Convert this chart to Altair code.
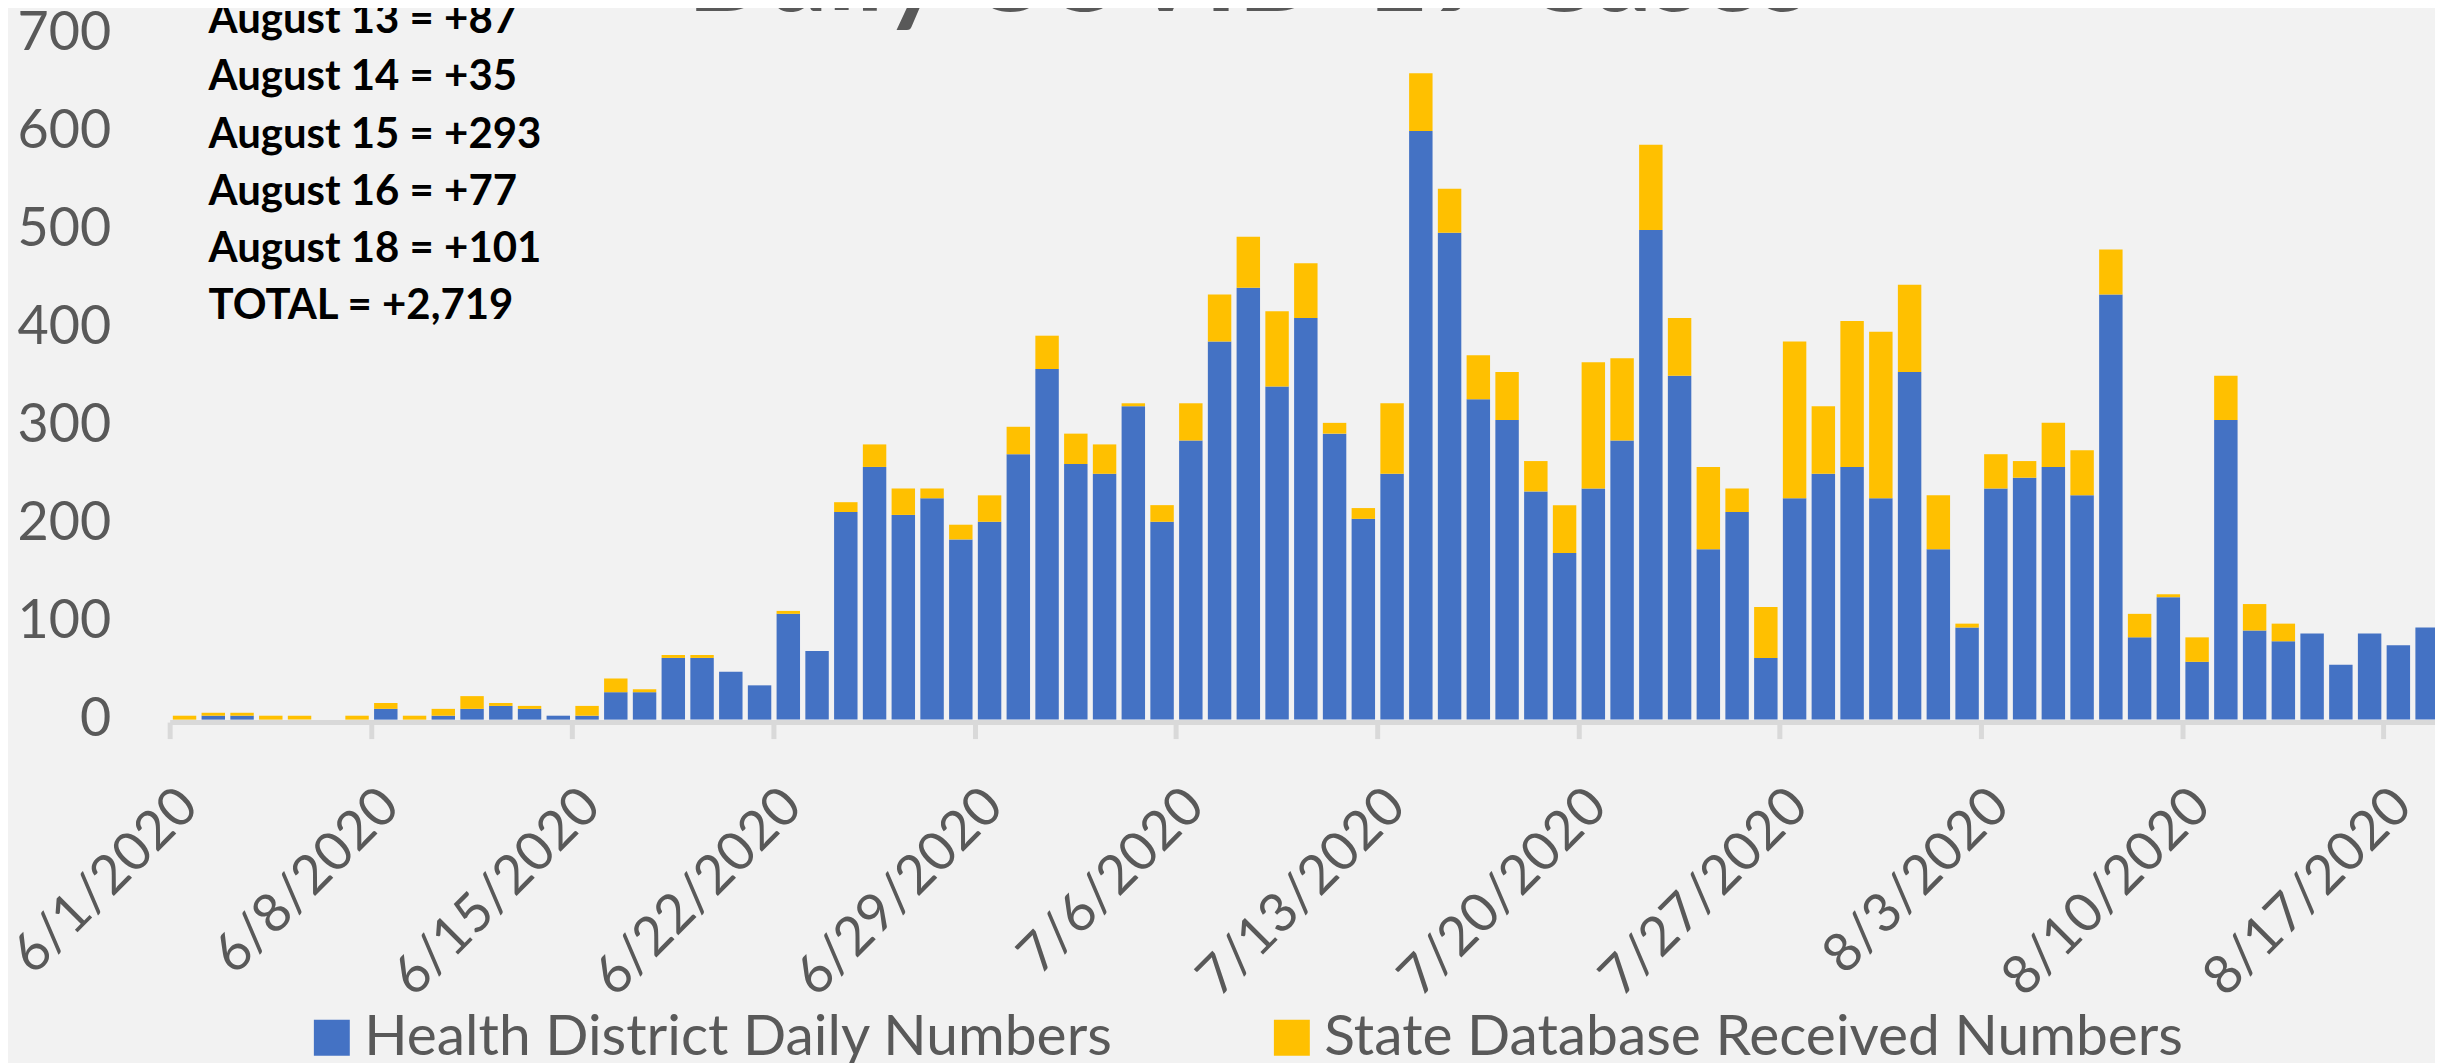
import altair as alt
import pandas as pd

# ---------------- data ----------------
DATES = pd.date_range("2020-06-01", "2020-08-18", freq="D").strftime("%Y-%m-%d").tolist()

SERIES = ["Health District Daily Numbers", "State Database Received Numbers"]
COLORS = ["#4472C4", "#FFC000"]

HEALTH = [
    0, 4, 4, 0, 0, 0, 0,
    11, 0, 4, 11, 14, 11, 4,
    4, 28, 28, 63, 63, 49, 35,
    108, 70, 212, 258, 209, 226, 184,
    202, 271, 358, 261, 251, 320, 202,
    285, 386, 441, 340, 410, 292, 205,
    251, 601, 497, 327, 306, 233, 170,
    236, 285, 500, 351, 174, 212, 63,
    226, 251, 258, 226, 355, 174, 94,
    236, 247, 258, 229, 434, 84, 125,
    59, 306, 91, 80, 88, 56, 88,
    76, 94,
]
STATE = [
    4, 3, 3, 4, 4, 0, 4,
    6, 4, 7, 13, 3, 3, 0,
    10, 14, 3, 3, 3, 0, 0,
    3, 0, 10, 23, 27, 10, 15,
    27, 28, 34, 31, 30, 3, 17,
    38, 48, 52, 77, 56, 11, 11,
    72, 59, 45, 45, 49, 31, 49,
    129, 84, 87, 59, 84, 24, 52,
    160, 69, 149, 170, 89, 55, 4,
    35, 17, 45, 46, 46, 24, 3,
    25, 45, 27, 18, 0, 0, 0,
    0, 0,
]
TICK_DATES = DATES[::7]
Y_TICKS = [0, 100, 200, 300, 400, 500, 600, 700]

TITLE = "Daily COVID-19 Cases"
NOTE_LINES = [
    "August 13 = +87",
    "August 14 = +35",
    "August 15 = +293",
    "August 16 = +77",
    "August 18 = +101",
    "TOTAL = +2,719",
]

# ---------------- styling ----------------
BG = "#F2F2F2"
GREY_TEXT = "#595959"
AXIS_GREY = "#D9D9D9"
FONT = "Lato"

n = len(DATES)
df = pd.DataFrame({
    "date": DATES * 2,
    "series": [SERIES[0]] * n + [SERIES[1]] * n,
    "cases": HEALTH + STATE,
    "stack_order": [0] * n + [1] * n,
})


def dt(s, hours=0):
    y, m, d = map(int, s.split("-"))
    return alt.DateTime(year=y, month=m, date=d, hours=hours, utc=True)


x_domain = [dt(DATES[0]), dt(DATES[-1], 19)]

bars = alt.Chart(df).mark_bar(width=alt.RelativeBandSize(0.85)).encode(
    x=alt.X(
        "date:T",
        timeUnit="utcyearmonthdate",
        title=None,
        scale=alt.Scale(type="utc", domain=x_domain, nice=False),
        axis=alt.Axis(
            values=[dt(d) for d in TICK_DATES],
            labelExpr="utcFormat(datum.value, '%-m/%-d/%Y')",
            labelAngle=315,
            labelAlign="right",
            labelBaseline="top",
            labelFont=FONT,
            labelFontSize=54,
            labelColor=GREY_TEXT,
            labelPadding=40,
            labelLimit=1000,
            labelOverlap=False,
            labelFlush=False,
            domainColor=AXIS_GREY,
            domainWidth=5,
            tickColor=AXIS_GREY,
            tickWidth=5,
            tickSize=16.5,
            offset=2.5,
            grid=False,
        ),
    ),
    y=alt.Y(
        "cases:Q",
        stack="zero",
        title=None,
        scale=alt.Scale(domain=[0, 700], nice=False),
        axis=alt.Axis(
            values=Y_TICKS,
            labelFont=FONT,
            labelFontSize=54,
            labelColor=GREY_TEXT,
            labelPadding=59,
            labelFlush=False,
            domain=False,
            ticks=False,
            tickSize=0,
            grid=False,
        ),
    ),
    color=alt.Color(
        "series:N",
        title=None,
        scale=alt.Scale(domain=SERIES, range=COLORS),
        legend=alt.Legend(
            orient="none",
            legendX=134,
            legendY=977,
            direction="horizontal",
            symbolType="square",
            symbolSize=1296,
            symbolStrokeWidth=0,
            symbolOpacity=1,
            labelFont=FONT,
            labelFontSize=57,
            labelColor=GREY_TEXT,
            labelLimit=2000,
            labelOffset=4,
            columnPadding=150,
            padding=0,
        ),
    ),
    order=alt.Order("stack_order:Q", sort="ascending"),
)

title = alt.Chart(pd.DataFrame({"t": [TITLE]})).mark_text(
    font=FONT, fontSize=112, fontWeight="bold", color=GREY_TEXT,
    align="center", baseline="alphabetic",
).encode(text="t:N", x=alt.value(1081), y=alt.value(-23))

note = alt.Chart(pd.DataFrame({"t": ["\n".join(NOTE_LINES)]})).mark_text(
    font=FONT, fontSize=42, fontWeight="bold", color="#000000",
    align="left", baseline="top", lineBreak="\n", lineHeight=57.4,
).encode(text="t:N", x=alt.value(39), y=alt.value(-34))

chart = alt.layer(bars, title, note).properties(
    width=2270,
    height=687,
    autosize=alt.AutoSizeParams(type="none"),
    padding={"left": 162, "top": 25, "right": 0, "bottom": 343},
    background=BG,
).configure_view(stroke=None)

chart.save("out.html", embed_options={"renderer": "svg", "actions": False})
